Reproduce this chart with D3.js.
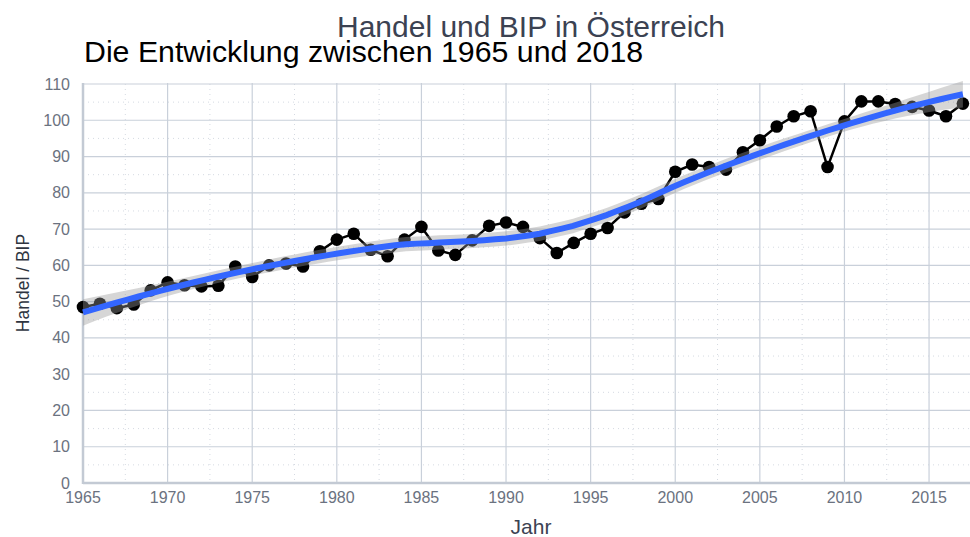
<html>
<head>
<script src="https://d3js.org/d3.v7.min.js"></script>
<style>
  body { margin: 0; background: #fff; }
  text { font-family: "Liberation Sans", Arial, sans-serif; }
</style>
</head>
<body>
<svg id="chart"></svg>
<script>
// jahre und werte (Handel / BIP)
var years = d3.range(1965, 2018);
var values = [
  48.5, 49.4, 48.2, 49.2, 53.1, 55.3, 54.5, 54.2, 54.4, 59.7,
  56.8, 60.0, 60.5, 59.7, 63.9, 67.1, 68.7, 64.3, 62.5, 67.1,
  70.6, 64.1, 62.9, 66.9, 70.9, 71.8, 70.6, 67.5, 63.4, 66.2,
  68.7, 70.3, 74.6, 77.0, 78.3, 85.8, 87.8, 87.1, 86.4, 91.2,
  94.5, 98.3, 101.1, 102.5, 87.1, 99.7, 105.2, 105.2, 104.5, 103.7,
  102.7, 101.1, 104.6
];
var xTicks = d3.range(1965, 2016, 5);
var yTicks = d3.range(0, 111, 10);

var W = 970, H = 537;
var panelL = 83, panelR = 970, panelT = 84, panelB = 483;

var svg = d3.select("#chart").attr("width", W).attr("height", H);

var x = d3.scaleLinear().domain([1965, 2017.42]).range([panelL, panelR]);
var y = d3.scaleLinear().domain([0, 110]).range([panelB, panelT]);

/* loess (span 0.75, grad 2) wie geom_smooth */
function loessWeights(xs, x0, span) {
  var n = xs.length;
  var q = Math.floor(n * span);
  var d = xs.map(v => Math.abs(v - x0));
  var h = d.slice().sort((a, b) => a - b)[q - 1];
  var w = d.map(v => v < h ? Math.pow(1 - Math.pow(v / h, 3), 3) : 0);
  // X^T W X fuer basis 1, t, t^2
  var A = [[0,0,0],[0,0,0],[0,0,0]];
  for (var i = 0; i < n; i++) {
    var t = xs[i] - x0, b = [1, t, t*t];
    for (var r = 0; r < 3; r++) for (var c = 0; c < 3; c++) A[r][c] += w[i]*b[r]*b[c];
  }
  var inv = invert3(A);
  return xs.map((v, i) => {
    var t = v - x0;
    return w[i] * (inv[0][0] + inv[0][1]*t + inv[0][2]*t*t);
  });
}

function invert3(m) {
  var a=m[0][0],b=m[0][1],c=m[0][2],d=m[1][0],e=m[1][1],f=m[1][2],g=m[2][0],h=m[2][1],k=m[2][2];
  var det = a*(e*k-f*h) - b*(d*k-f*g) + c*(d*h-e*g);
  return [
    [(e*k-f*h)/det, (c*h-b*k)/det, (b*f-c*e)/det],
    [(f*g-d*k)/det, (a*k-c*g)/det, (c*d-a*f)/det],
    [(d*h-e*g)/det, (b*g-a*h)/det, (a*e-b*d)/det]
  ];
}

var n = years.length;
var L = years.map(x0 => loessWeights(years, x0, 0.75));
var fitted = L.map(l => d3.sum(l, (v, i) => v * values[i]));
var rss = d3.sum(values, (v, i) => (v - fitted[i]) * (v - fitted[i]));
// delta1 = spur((I-L)^T (I-L))
var delta1 = 0;
for (var i = 0; i < n; i++) for (var j = 0; j < n; j++) {
  var v = (i === j ? 1 : 0) - L[i][j];
  delta1 += v * v;
}
var sigma = Math.sqrt(rss / delta1);
var z = 1.96, tq = z + (z*z*z + z) / (4 * delta1);

var smooth = d3.range(80).map(k => {
  var x0 = 1965 + k * (2017 - 1965) / 79;
  var l = loessWeights(years, x0, 0.75);
  var f = d3.sum(l, (v, i) => v * values[i]);
  var se = sigma * Math.sqrt(d3.sum(l, v => v * v));
  return {x: x0, y: f, lo: f - tq * se, hi: f + tq * se};
});

/* gitter */
var g = svg.append("g");
var minorX = xTicks.map(t => t + 2.5);
var minorY = yTicks.slice(0, -1).map(t => t + 5);

g.selectAll(".mx").data(minorX).enter().append("line")
  .attr("x1", d => x(d)).attr("x2", d => x(d))
  .attr("y1", panelT).attr("y2", panelB)
  .attr("stroke", "#d5dae2").attr("stroke-width", 1).attr("stroke-dasharray", "1,4");
g.selectAll(".my").data(minorY).enter().append("line")
  .attr("x1", panelL).attr("x2", panelR)
  .attr("y1", d => y(d)).attr("y2", d => y(d))
  .attr("stroke", "#d5dae2").attr("stroke-width", 1).attr("stroke-dasharray", "1,4");
g.selectAll(".gx").data(xTicks).enter().append("line")
  .attr("x1", d => x(d)).attr("x2", d => x(d))
  .attr("y1", panelT - 1).attr("y2", panelB)
  .attr("stroke", "#c9d0da").attr("stroke-width", 1.2);
g.selectAll(".gy").data(yTicks).enter().append("line")
  .attr("x1", panelL).attr("x2", panelR)
  .attr("y1", d => y(d)).attr("y2", d => y(d))
  .attr("stroke", "#c9d0da").attr("stroke-width", 1.2);

/* achsenlinien */
svg.append("line").attr("x1", panelL).attr("x2", panelL).attr("y1", panelT - 1).attr("y2", panelB + 1)
  .attr("stroke", "#c3cad4").attr("stroke-width", 2.5);
svg.append("line").attr("x1", panelL).attr("x2", panelR).attr("y1", panelB).attr("y2", panelB)
  .attr("stroke", "#c3cad4").attr("stroke-width", 2.5);

/* tick labels */
svg.selectAll(".xt").data(xTicks).enter().append("text")
  .attr("x", d => x(d)).attr("y", panelB + 20)
  .attr("text-anchor", "middle").attr("font-size", 16).attr("fill", "#6b7280")
  .text(d => d);
svg.selectAll(".yt").data(yTicks).enter().append("text")
  .attr("x", panelL - 13).attr("y", d => y(d) + 5.5)
  .attr("text-anchor", "end").attr("font-size", 16).attr("fill", "#6b7280")
  .text(d => d);

/* daten: linie und punkte */
var pts = years.map((yr, i) => ({x: yr, y: values[i]}));
svg.append("path").datum(pts)
  .attr("d", d3.line().x(d => x(d.x)).y(d => y(d.y)))
  .attr("fill", "none").attr("stroke", "#000").attr("stroke-width", 2.5);
svg.selectAll(".pt").data(pts).enter().append("circle")
  .attr("cx", d => x(d.x)).attr("cy", d => y(d.y)).attr("r", 6.3)
  .attr("fill", "#000");

/* konfidenzband und glaettung */
svg.append("path").datum(smooth)
  .attr("d", d3.area().x(d => x(d.x)).y0(d => y(d.lo)).y1(d => y(d.hi)))
  .attr("fill", "#999999").attr("fill-opacity", 0.4);
svg.append("path").datum(smooth)
  .attr("d", d3.line().x(d => x(d.x)).y(d => y(d.y)))
  .attr("fill", "none").attr("stroke", "#3366FF").attr("stroke-width", 6);

/* titel */
svg.append("text").attr("x", 531).attr("y", 37).attr("text-anchor", "middle")
  .attr("font-size", 30).attr("fill", "#3b4252").text("Handel und BIP in Österreich");
svg.append("text").attr("x", 84).attr("y", 62)
  .attr("font-size", 30.3).attr("fill", "#000").text("Die Entwicklung zwischen 1965 und 2018");

/* achsentitel */
svg.append("text").attr("x", 531).attr("y", 534).attr("text-anchor", "middle")
  .attr("font-size", 21).attr("fill", "#3b4252").text("Jahr");
svg.append("text").attr("transform", "translate(29,283) rotate(-90)").attr("text-anchor", "middle")
  .attr("font-size", 17.5).attr("fill", "#2e3440").text("Handel / BIP");
</script>
</body>
</html>
